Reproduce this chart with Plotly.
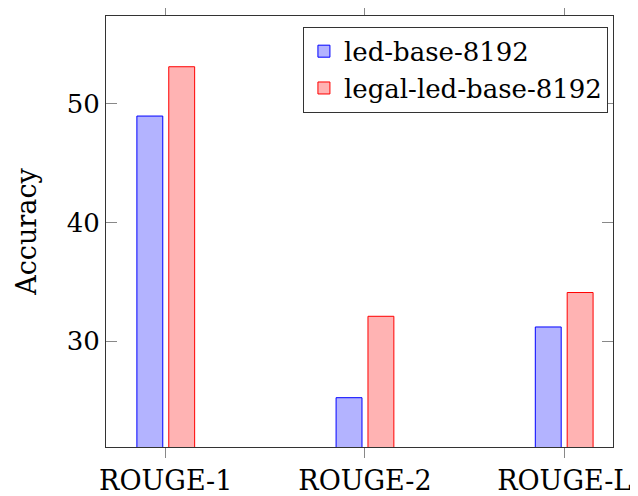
import plotly.graph_objects as go

categories = ["ROUGE-1", "ROUGE-2", "ROUGE-L"]
led_base = [48.95, 25.25, 31.2]
legal_led_base = [53.1, 32.1, 34.1]
y_ticks = [30, 40, 50]

FONT = "DejaVu Serif"
FS = 26
xpos = list(range(len(categories)))

fig = go.Figure()
fig.add_trace(go.Bar(
    x=xpos, y=led_base, name="led-base-8192",
    width=0.13, offset=-0.145,
    marker=dict(color="rgb(179,179,255)", line=dict(color="rgb(0,0,255)", width=1)),
))
fig.add_trace(go.Bar(
    x=xpos, y=legal_led_base, name="legal-led-base-8192",
    width=0.13, offset=0.015,
    marker=dict(color="rgb(255,179,179)", line=dict(color="rgb(255,0,0)", width=1)),
))

fig.update_layout(
    width=630, height=488,
    margin=dict(l=98, r=25, t=8, b=49, autoexpand=False),
    paper_bgcolor="white", plot_bgcolor="white",
    font=dict(family=FONT, size=FS, color="black"),
    showlegend=True,
    legend=dict(
        x=0.99, y=0.975, xanchor="right", yanchor="top",
        bgcolor="white", bordercolor="#333", borderwidth=1,
        font=dict(family=FONT, size=FS, color="black"),
        tracegroupgap=0,
    ),
    xaxis=dict(
        range=[-0.30, 2.245], automargin=False,
        tickmode="array", tickvals=xpos, ticktext=categories,
        ticks="outside", ticklen=10, tickcolor="#888", tickwidth=1,
        showline=True, linecolor="#333", linewidth=1, mirror="ticks",
        showgrid=False, zeroline=False,
        tickfont=dict(family=FONT, size=27, color="black"),
    ),
    yaxis=dict(
        range=[21.1, 57.37], automargin=False,
        tickmode="array", tickvals=y_ticks,
        ticks="inside", ticklen=11, tickcolor="#888", tickwidth=1,
        showline=True, linecolor="#333", linewidth=1, mirror="ticks",
        showgrid=False, zeroline=False,
        tickfont=dict(family=FONT, size=FS, color="black"),
        title=dict(text="Accuracy", font=dict(family=FONT, size=27, color="black"), standoff=22),
    ),
)

fig.write_html("out.html")
